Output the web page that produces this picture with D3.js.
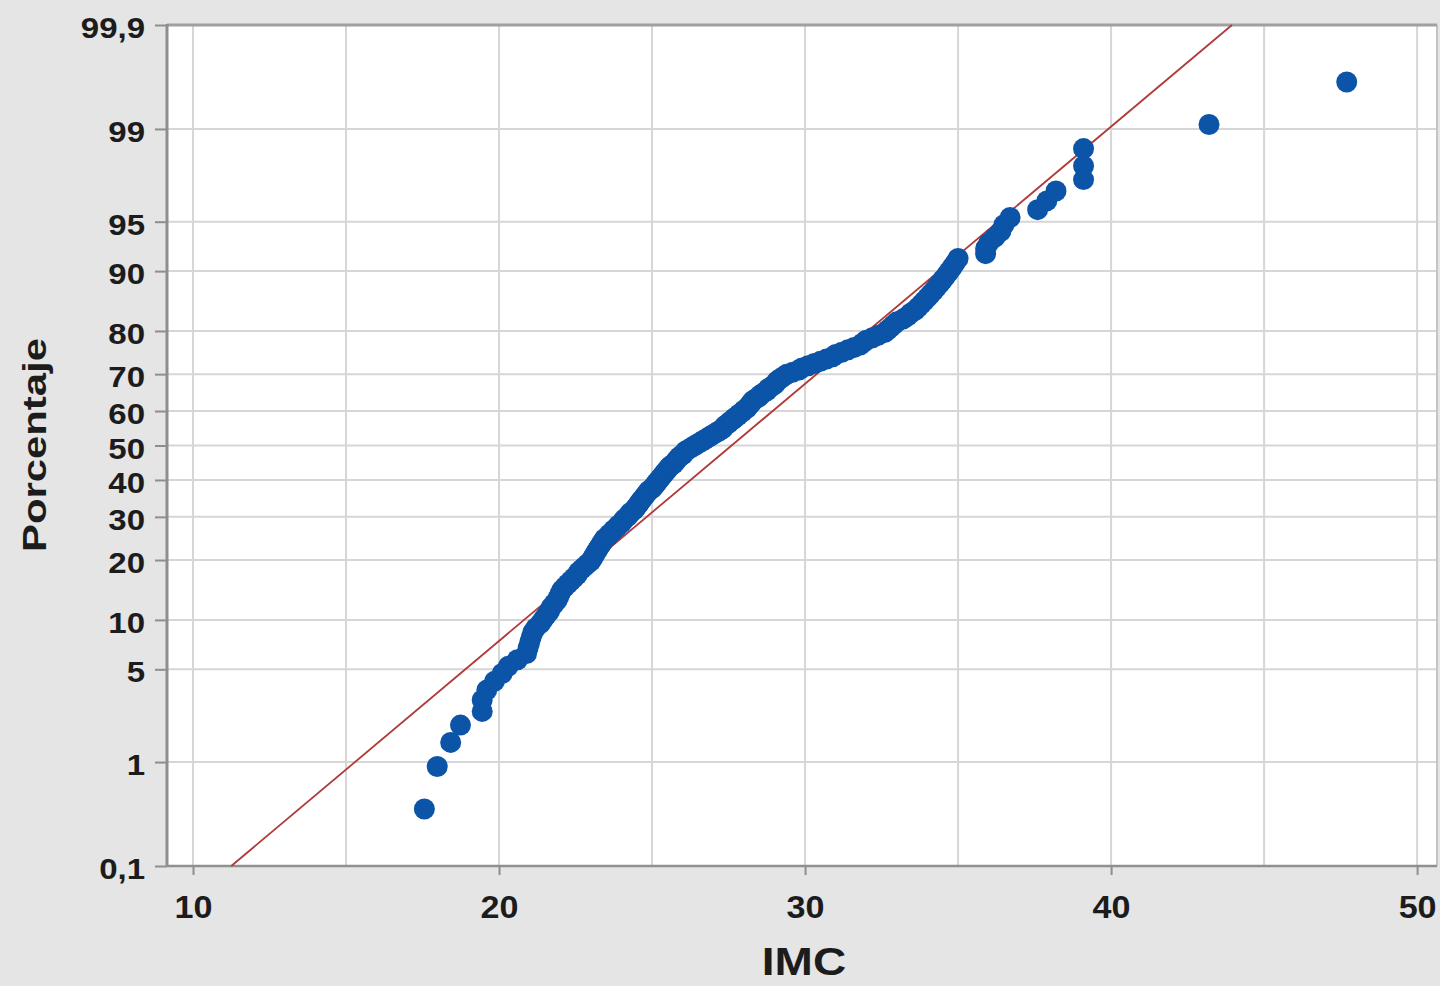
<!DOCTYPE html>
<html>
<head>
<meta charset="utf-8">
<script src="https://cdn.jsdelivr.net/npm/d3@7/dist/d3.min.js"></script>
<style>
  html, body { margin: 0; padding: 0; background: #e5e5e5; }
  svg { display: block; }
  text { font-family: "Liberation Sans", Arial, sans-serif; font-weight: bold; fill: #1c1c1c; }
</style>
</head>
<body>
<div id="chart"></div>
<script>
var imc = [
  17.56, 17.98, 18.42, 18.74, 19.45, 19.45, 19.6, 19.85, 20.1, 20.3,
  20.6, 20.9, 20.95, 21.0, 21.05, 21.1, 21.2, 21.35, 21.45, 21.55,
  21.65, 21.7, 21.8, 21.9, 21.95, 22.0, 22.05, 22.15, 22.25, 22.35,
  22.45, 22.55, 22.6, 22.7, 22.8, 22.9, 23.0, 23.05, 23.1, 23.15,
  23.2, 23.25, 23.3, 23.35, 23.4, 23.45, 23.55, 23.6, 23.7, 23.75,
  23.85, 23.9, 24.0, 24.05, 24.1, 24.2, 24.25, 24.3, 24.4, 24.45,
  24.5, 24.55, 24.6, 24.65, 24.7, 24.75, 24.8, 24.85, 24.9, 25.0,
  25.05, 25.1, 25.15, 25.2, 25.25, 25.3, 25.35, 25.4, 25.45, 25.5,
  25.55, 25.6, 25.7, 25.75, 25.8, 25.85, 25.9, 26.0, 26.05, 26.1,
  26.2, 26.3, 26.4, 26.5, 26.6, 26.7, 26.8, 26.9, 27.0, 27.1,
  27.2, 27.3, 27.35, 27.4, 27.5, 27.55, 27.65, 27.7, 27.8, 27.85,
  27.95, 28.0, 28.1, 28.15, 28.2, 28.25, 28.3, 28.4, 28.5, 28.55,
  28.65, 28.75, 28.8, 28.9, 29.0, 29.05, 29.1, 29.2, 29.3, 29.4,
  29.6, 29.8, 29.9, 30.1, 30.3, 30.5, 30.7, 30.9, 31.0, 31.2,
  31.4, 31.6, 31.8, 31.9, 32.0, 32.2, 32.4, 32.6, 32.7, 32.8,
  32.9, 33.0, 33.2, 33.35, 33.45, 33.6, 33.7, 33.8, 33.9, 34.0,
  34.1, 34.2, 34.3, 34.4, 34.5, 34.6, 34.7, 34.8, 34.9, 35.0,
  35.9, 35.9, 36.0, 36.2, 36.4, 36.5, 36.7, 37.6, 37.9, 38.2,
  39.1, 39.1, 39.1, 43.2, 47.7
];

// fitted normal line, given by its two ends on the probability scale
var fitImc = [11.25, 43.95];
var fitPct = [0.1, 99.9];

var xTicks = [10, 20, 30, 40, 50];
var xGrid = [10, 15, 20, 25, 30, 35, 40, 45, 50];
var pctTicks = [0.1, 1, 5, 10, 20, 30, 40, 50, 60, 70, 80, 90, 95, 99, 99.9];

var W = 1440, H = 986;
var pLeft = 167, pRight = 1437, pTop = 25, pBottom = 866;

// inverse of the normal cdf (Acklam)
function probit(p) {
    var a = [-3.969683028665376e+01, 2.209460984245205e+02, -2.759285104469687e+02, 1.383577518672690e+02, -3.066479806614716e+01, 2.506628277459239e+00];
    var b = [-5.447609879822406e+01, 1.615858368580409e+02, -1.556989798598866e+02, 6.680131188771972e+01, -1.328068155288572e+01];
    var c = [-7.784894002430293e-03, -3.223964580411365e-01, -2.400758277161838e+00, -2.549732539343734e+00, 4.374664141464968e+00, 2.938163982698783e+00];
    var d = [7.784695709041462e-03, 3.224671290700398e-01, 2.445134137142996e+00, 3.754408661907416e+00];
    var pl = 0.02425, q, r;
    if (p < pl) {
        q = Math.sqrt(-2 * Math.log(p));
        return (((((c[0]*q+c[1])*q+c[2])*q+c[3])*q+c[4])*q+c[5]) / ((((d[0]*q+d[1])*q+d[2])*q+d[3])*q+1);
    }
    if (p > 1 - pl) {
        q = Math.sqrt(-2 * Math.log(1 - p));
        return -(((((c[0]*q+c[1])*q+c[2])*q+c[3])*q+c[4])*q+c[5]) / ((((d[0]*q+d[1])*q+d[2])*q+d[3])*q+1);
    }
    q = p - 0.5; r = q * q;
    return (((((a[0]*r+a[1])*r+a[2])*r+a[3])*r+a[4])*r+a[5])*q / (((((b[0]*r+b[1])*r+b[2])*r+b[3])*r+b[4])*r+1);
}

var x = d3.scaleLinear().domain([9.15, 50.65]).range([pLeft, pRight]);

// probability scale: linear in z
var zScale = d3.scaleLinear().domain([probit(0.001), probit(0.999)]).range([pBottom, pTop]);
function y(p) { return zScale(probit(p / 100)); }
y.range = function() { return zScale.range(); };
y.domain = function() { return [0.1, 99.9]; };
y.copy = function() { return y; };

// median ranks, as the probability plot places them
var n = imc.length;
var points = imc.map(function(v, i) { return { imc: v, pct: (i + 1 - 0.3) / (n + 0.4) * 100 }; });

var svg = d3.select("#chart").append("svg")
    .attr("width", W)
    .attr("height", H);

svg.append("rect")
    .attr("x", pLeft).attr("y", pTop)
    .attr("width", pRight - pLeft).attr("height", pBottom - pTop)
    .attr("fill", "#ffffff");

// grid
svg.append("g").selectAll("line")
    .data(xGrid)
    .enter().append("line")
    .attr("x1", function(d) { return x(d); })
    .attr("x2", function(d) { return x(d); })
    .attr("y1", pTop).attr("y2", pBottom)
    .attr("stroke", "#d6d6d6")
    .attr("stroke-width", 2);

svg.append("g").selectAll("line")
    .data(pctTicks)
    .enter().append("line")
    .attr("x1", pLeft).attr("x2", pRight)
    .attr("y1", function(d) { return y(d); })
    .attr("y2", function(d) { return y(d); })
    .attr("stroke", "#d6d6d6")
    .attr("stroke-width", 2);

// frame
svg.append("line").attr("x1", pRight).attr("x2", pRight).attr("y1", pTop).attr("y2", pBottom)
    .attr("stroke", "#c4c4c4").attr("stroke-width", 2);
svg.append("line").attr("x1", pLeft).attr("x2", pRight).attr("y1", pTop).attr("y2", pTop)
    .attr("stroke", "#a0a0a0").attr("stroke-width", 3);
svg.append("line").attr("x1", pLeft).attr("x2", pRight).attr("y1", pBottom).attr("y2", pBottom)
    .attr("stroke", "#909090").attr("stroke-width", 2.5);
svg.append("line").attr("x1", pLeft).attr("x2", pLeft).attr("y1", pTop - 1).attr("y2", pBottom + 1)
    .attr("stroke", "#8e8e8e").attr("stroke-width", 3);

// axes
var sx = 1.1;
var yAxis = svg.append("g")
    .attr("transform", "translate(" + pLeft + ",0)")
    .call(d3.axisLeft(y)
        .tickValues(pctTicks)
        .tickFormat(function(d) { return String(d).replace(".", ","); })
        .tickSize(12)
        .tickPadding(10));
yAxis.select(".domain").remove();
yAxis.selectAll(".tick line").attr("stroke", "#8e8e8e").attr("stroke-width", 2);
yAxis.selectAll(".tick text")
    .attr("font-size", 30)
    .attr("font-family", null)
    .attr("dy", "0.42em")
    .attr("x", -22 / sx)
    .attr("transform", "scale(" + sx + ",1)");

var xAxis = svg.append("g")
    .attr("transform", "translate(0," + pBottom + ")")
    .call(d3.axisBottom(x)
        .tickValues(xTicks)
        .tickSize(9)
        .tickPadding(21));
xAxis.select(".domain").remove();
xAxis.selectAll(".tick line").attr("stroke", "#8e8e8e").attr("stroke-width", 2);
xAxis.selectAll(".tick text")
    .attr("font-size", 31)
    .attr("font-family", null)
    .attr("transform", "scale(" + sx + ",1)");

// fitted line
svg.append("line")
    .attr("x1", x(fitImc[0])).attr("y1", y(fitPct[0]))
    .attr("x2", x(fitImc[1])).attr("y2", y(fitPct[1]))
    .attr("stroke", "#b03a3a")
    .attr("stroke-width", 1.8);

// points
svg.append("g").selectAll("circle")
    .data(points)
    .enter().append("circle")
    .attr("cx", function(d) { return x(d.imc); })
    .attr("cy", function(d) { return y(d.pct); })
    .attr("r", 10.5)
    .attr("fill", "#0b54a7");

// titles
svg.append("text")
    .attr("transform", "translate(804,975) scale(1.18,1)")
    .attr("text-anchor", "middle")
    .attr("font-size", 39)
    .text("IMC");

svg.append("text")
    .attr("transform", "translate(46,445) rotate(-90) scale(1.23,1)")
    .attr("text-anchor", "middle")
    .attr("font-size", 34)
    .text("Porcentaje");
</script>
</body>
</html>
